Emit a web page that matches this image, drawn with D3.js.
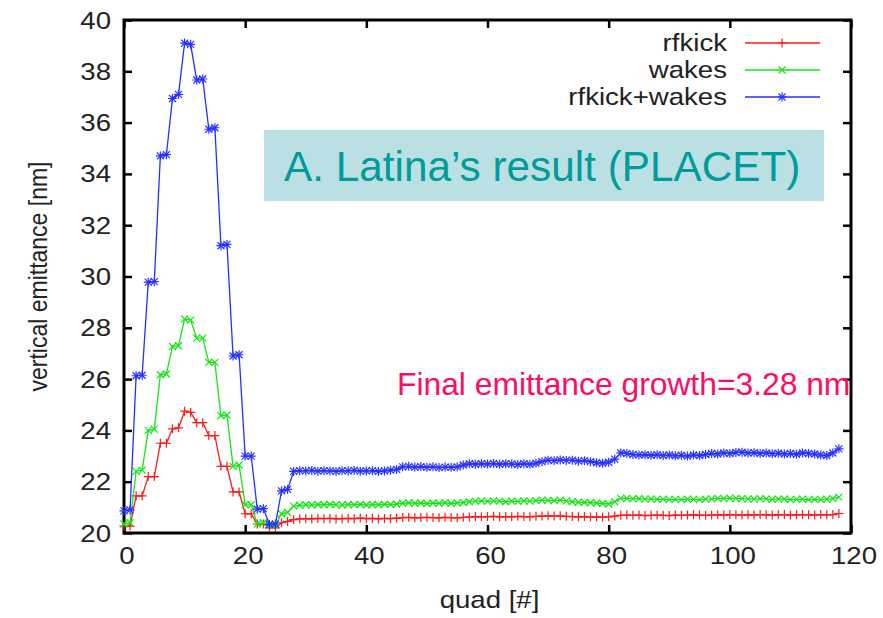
<!DOCTYPE html>
<html>
<head>
<meta charset="utf-8">
<script src="https://cdn.jsdelivr.net/npm/d3@7"></script>
<style>
  html, body { margin: 0; padding: 0; background: #fff; }
  svg { display: block; }
  text { font-family: "Liberation Sans", Arial, Helvetica, sans-serif; }
</style>
</head>
<body>
<div id="chart"></div>
<script>
// ---------------- data ----------------
const seriesNames = ["rfkick", "wakes", "rfkick+wakes"];
const xTicks = [0, 20, 40, 60, 80, 100, 120];
const yTicks = [20, 22, 24, 26, 28, 30, 32, 34, 36, 38, 40];

const rfkick = [
  20.27, 20.27, 21.45, 21.45, 22.2, 22.2, 23.5, 23.5, 24.06, 24.1,
  24.75, 24.7, 24.3, 24.3, 23.8, 23.8, 22.6, 22.6, 21.6, 21.6,
  20.75, 20.75, 20.35, 20.35, 20.2, 20.2, 20.4, 20.45,
  20.52, 20.55, 20.56, 20.55, 20.57, 20.56, 20.57, 20.55, 20.56, 20.57,
  20.56, 20.58, 20.56, 20.57, 20.55, 20.57, 20.56, 20.58,
  20.60, 20.61, 20.59, 20.60, 20.61, 20.60, 20.59, 20.61, 20.60, 20.59, 20.61, 20.62,
  20.64, 20.63, 20.64, 20.65, 20.63, 20.64, 20.63, 20.65, 20.64, 20.63, 20.65, 20.66,
  20.67, 20.66, 20.67, 20.65, 20.64, 20.63, 20.64, 20.62, 20.63, 20.62, 20.63, 20.66,
  20.69, 20.70, 20.69, 20.70, 20.68, 20.69, 20.70, 20.69, 20.68, 20.70,
  20.69, 20.70, 20.71, 20.70, 20.69, 20.70, 20.71, 20.70, 20.72, 20.71,
  20.70, 20.71, 20.70, 20.72, 20.71, 20.70, 20.71, 20.72, 20.70, 20.71,
  20.72, 20.71, 20.70, 20.72, 20.71, 20.72, 20.76
];

const wakes = [
  20.35, 20.4, 22.4, 22.45, 24.0, 24.05, 26.17, 26.2, 27.27, 27.3,
  28.35, 28.3, 27.6, 27.6, 26.65, 26.65, 24.57, 24.6, 22.6, 22.65,
  21.1, 21.1, 20.35, 20.4, 20.3, 20.3, 20.75, 20.8,
  21.05, 21.08, 21.10, 21.09, 21.11, 21.10, 21.12, 21.10, 21.09, 21.11,
  21.10, 21.12, 21.09, 21.11, 21.10, 21.12, 21.11, 21.13,
  21.16, 21.18, 21.16, 21.17, 21.15, 21.17, 21.16, 21.18, 21.15, 21.17, 21.19, 21.22,
  21.24, 21.25, 21.23, 21.25, 21.24, 21.22, 21.24, 21.23, 21.25, 21.24, 21.26, 21.28,
  21.27, 21.26, 21.28, 21.25, 21.22, 21.20, 21.19, 21.18, 21.17, 21.15, 21.13, 21.22,
  21.36, 21.35, 21.33, 21.34, 21.32, 21.33, 21.31, 21.32, 21.30, 21.31,
  21.30, 21.32, 21.31, 21.30, 21.32, 21.33, 21.35, 21.34, 21.36, 21.35,
  21.34, 21.33, 21.32, 21.34, 21.33, 21.31, 21.32, 21.33, 21.30, 21.31,
  21.32, 21.30, 21.31, 21.30, 21.32, 21.34, 21.40
];

const rfkickWakes = [
  20.86, 20.9, 26.13, 26.15, 29.78, 29.8, 34.7, 34.75, 36.94, 37.1,
  39.1, 39.05, 37.66, 37.7, 35.74, 35.8, 31.2, 31.25, 26.9, 26.95,
  23.0, 23.0, 20.93, 20.95, 20.34, 20.35, 21.64, 21.7,
  22.40, 22.43, 22.42, 22.44, 22.41, 22.43, 22.42, 22.40, 22.43, 22.42,
  22.44, 22.41, 22.42, 22.43, 22.40, 22.42, 22.45, 22.48,
  22.58, 22.60, 22.57, 22.59, 22.56, 22.58, 22.55, 22.57, 22.56, 22.58,
  22.65, 22.70, 22.68, 22.70, 22.69, 22.71, 22.68, 22.70, 22.69, 22.67, 22.70, 22.68, 22.72, 22.78,
  22.84, 22.82, 22.85, 22.83, 22.84, 22.80, 22.82, 22.78, 22.74, 22.72, 22.76, 22.88,
  23.12, 23.10, 23.06, 23.04, 23.05, 23.03, 23.05, 23.02, 23.04, 23.01,
  23.03, 23.00, 23.04, 23.02, 23.06,
  23.10, 23.08, 23.12, 23.10, 23.14, 23.15, 23.12, 23.13, 23.10, 23.12,
  23.09, 23.11, 23.08, 23.10, 23.07, 23.12, 23.10, 23.08, 23.04, 23.02,
  23.12, 23.28
];

const annotationBox = "A. Latina\u2019s result (PLACET)";
const annotationNote = "Final emittance growth=3.28 nm";
const xLabel = "quad [#]";
const yLabel = "vertical emittance [nm]";

// ---------------- drawing ----------------
(function draw() {
  const W = 883, H = 618;
  const svg = d3.select("#chart").append("svg").attr("width", W).attr("height", H);

  const pL = 124, pR = 851, pT = 20, pB = 533;
  const x = d3.scaleLinear().domain([0, 120]).range([pL, pR]);
  const y = d3.scaleLinear().domain([20, 40]).range([pB, pT]);

  const SX = 1.15;       // chart text is slightly stretched horizontally
  const tickFont = 24;
  const txtColor = "#222";

  // frame
  svg.append("rect")
    .attr("x", pL).attr("y", pT)
    .attr("width", pR - pL).attr("height", pB - pT)
    .attr("fill", "none").attr("stroke", "#000").attr("stroke-width", 3);

  // inward ticks, mirrored
  const tk = 8;
  const styleTicks = g => {
    g.select(".domain").remove();
    g.selectAll("line").attr("stroke", "#000").attr("stroke-width", 2.5);
  };
  svg.append("g").attr("transform", `translate(${pL},0)`)
    .call(d3.axisLeft(y).tickValues(yTicks).tickSize(-tk).tickFormat(""))
    .call(styleTicks);
  svg.append("g").attr("transform", `translate(${pR},0)`)
    .call(d3.axisRight(y).tickValues(yTicks).tickSize(-tk).tickFormat(""))
    .call(styleTicks);
  svg.append("g").attr("transform", `translate(0,${pB})`)
    .call(d3.axisBottom(x).tickValues(xTicks).tickSize(-tk).tickFormat(""))
    .call(styleTicks);
  svg.append("g").attr("transform", `translate(0,${pT})`)
    .call(d3.axisTop(x).tickValues(xTicks).tickSize(-tk).tickFormat(""))
    .call(styleTicks);

  // tick labels
  svg.append("g").selectAll("text").data(yTicks).join("text")
    .attr("transform", d => `translate(111,${y(d) + 8.5}) scale(${SX},1)`)
    .attr("text-anchor", "end")
    .attr("font-size", tickFont).attr("fill", txtColor)
    .text(d => d);
  svg.append("g").selectAll("text").data(xTicks).join("text")
    .attr("transform", d => `translate(${x(d) + 3},564) scale(${SX},1)`)
    .attr("text-anchor", "middle")
    .attr("font-size", tickFont).attr("fill", txtColor)
    .text(d => d);

  // axis titles
  svg.append("text")
    .attr("transform", `translate(${(pL + pR) / 2 + 2},608) scale(${SX},1)`)
    .attr("text-anchor", "middle").attr("font-size", tickFont).attr("fill", txtColor)
    .text(xLabel);
  svg.append("text")
    .attr("transform", `translate(47,${(pT + pB) / 2}) scale(${SX},1) rotate(-90)`)
    .attr("text-anchor", "middle").attr("font-size", 23).attr("fill", txtColor)
    .text(yLabel);

  // series
  const colors = ["#ff1a1a", "#14e614", "#2630ff"];
  const seriesData = [rfkick, wakes, rfkickWakes];
  const line = d3.line().x((d, i) => x(i)).y(d => y(d));

  const plus = (g, s) => g.append("path").attr("d", `M${-s},0H${s}M0,${-s}V${s}`);
  const cross = (g, s) => g.append("path").attr("d", `M${-s},${-s}L${s},${s}M${-s},${s}L${s},${-s}`);
  const markerFns = [
    (g) => plus(g, 4.5),
    (g) => cross(g, 3.5),
    (g) => { plus(g, 4.5); cross(g, 3.5); }
  ];

  const plot = svg.append("g");
  seriesData.forEach((vals, k) => {
    const g = plot.append("g").attr("stroke", colors[k]).attr("fill", "none");
    g.append("path").datum(vals).attr("d", line).attr("stroke-width", 1.3);
    g.selectAll("g.mk").data(vals).join("g").attr("class", "mk")
      .attr("transform", (v, i) => `translate(${x(i)},${y(v)})`)
      .attr("stroke-width", 1.2)
      .each(function () { markerFns[k](d3.select(this)); });
  });

  // legend
  const legY = [43, 70, 97];
  seriesNames.forEach((name, k) => {
    svg.append("text")
      .attr("transform", `translate(727,${legY[k] + 8}) scale(${SX},1)`)
      .attr("text-anchor", "end").attr("font-size", tickFont).attr("fill", txtColor)
      .text(name);
    const g = svg.append("g").attr("stroke", colors[k]).attr("fill", "none");
    g.append("line").attr("x1", 745).attr("x2", 820).attr("y1", legY[k]).attr("y2", legY[k]).attr("stroke-width", 1.3);
    const m = g.append("g").attr("transform", `translate(782,${legY[k]})`).attr("stroke-width", 1.2);
    markerFns[k](m);
  });

  // annotation box
  svg.append("rect").attr("x", 264).attr("y", 130).attr("width", 560).attr("height", 71)
    .attr("fill", "#bbe0e3");
  svg.append("text").attr("x", 284).attr("y", 181)
    .attr("font-size", 42.3).attr("fill", "#009b9b")
    .text(annotationBox);

  svg.append("text").attr("x", 397).attr("y", 395)
    .attr("font-size", 31.8).attr("fill", "#ff0a64")
    .text(annotationNote);
})();
</script>
</body>
</html>
